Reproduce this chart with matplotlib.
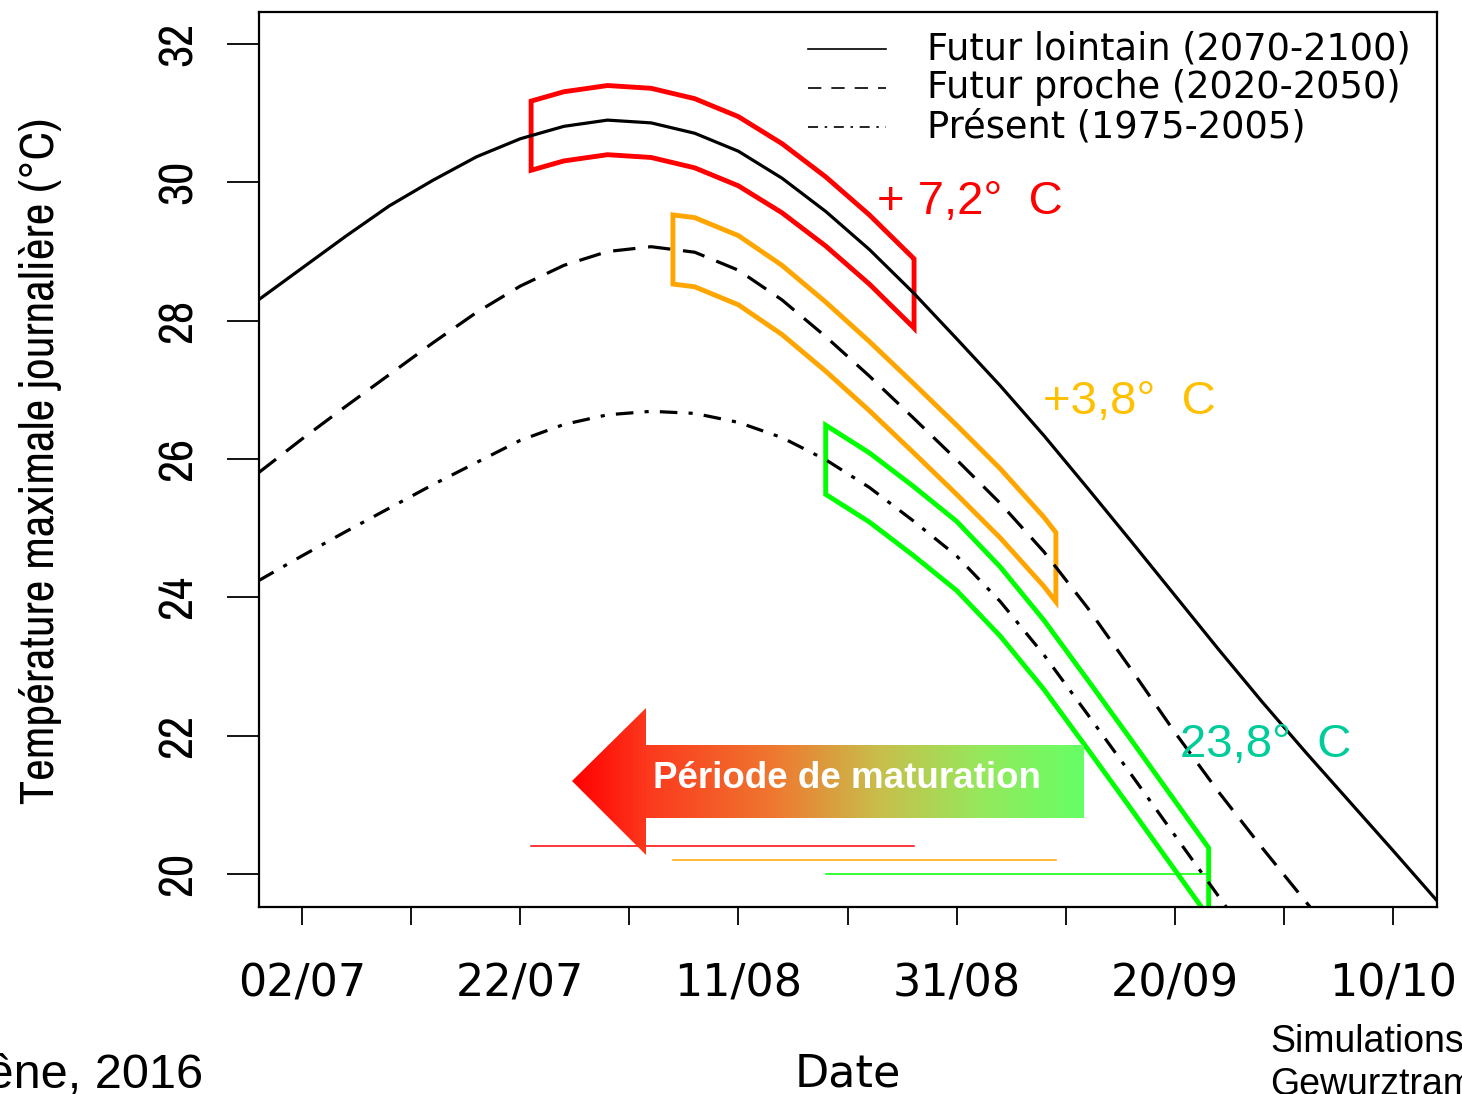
import numpy as np
import matplotlib
matplotlib.use("Agg")
import matplotlib.pyplot as plt
from matplotlib import font_manager
from matplotlib.font_manager import FontProperties
from matplotlib.colors import LinearSegmentedColormap
from matplotlib.patches import Polygon
from matplotlib.lines import Line2D

# x values are days counted from 02/07
lointain_days = [-4, 0, 4, 8, 12, 16, 20, 24, 28, 32, 36, 40, 44, 48, 52, 56, 60, 64, 68, 72,
                 76, 80, 84, 88, 92, 96, 100, 104]
lointain = [28.30, 28.76, 29.22, 29.66, 30.03, 30.37, 30.63, 30.81, 30.90, 30.86, 30.71, 30.45,
            30.06, 29.58, 29.03, 28.41, 27.74, 27.06, 26.34, 25.58, 24.81, 24.03, 23.25, 22.49,
            21.76, 21.05, 20.34, 19.62]

proche_days = [-4, 0, 4, 8, 12, 16, 20, 24, 28, 32, 36, 40, 44, 48, 52, 56, 60, 64, 68, 72,
               76, 80, 84, 88, 92, 94]
proche = [25.80, 26.29, 26.76, 27.22, 27.68, 28.12, 28.50, 28.80, 29.00, 29.07, 28.99, 28.73,
          28.30, 27.77, 27.20, 26.60, 25.99, 25.36, 24.66, 23.85, 22.96, 22.05, 21.19, 20.38,
          19.60, 19.22]

present_days = [-4, 0, 4, 8, 12, 16, 20, 24, 28, 32, 36, 40, 44, 48, 52, 56, 60, 64, 68, 72,
                76, 80, 84, 86]
present = [24.24, 24.60, 24.95, 25.29, 25.63, 25.95, 26.27, 26.50, 26.64, 26.69, 26.66, 26.53,
           26.31, 25.99, 25.59, 25.11, 24.60, 23.94, 23.17, 22.31, 21.44, 20.56, 19.68, 19.24]

# maturation windows (days from 02/07) and level of the coloured bars
mat_start = [21.0, 34.0, 48.0]
mat_end = [56.1, 69.1, 83.1]
mat_level = [20.4, 20.2, 20.0]
mat_colors = ["#FF0000", "#FFA500", "#00FF00"]
half_width = 0.5

tick_days = list(range(0, 101, 10))
tick_labels = ["02/07", "", "22/07", "", "11/08", "", "31/08", "", "20/09", "", "10/10"]
y_ticks = list(range(20, 33, 2))

W, H = 1462, 1094
fig = plt.figure(figsize=(W / 100, H / 100), dpi=100)
ax = fig.add_axes([259 / W, 1 - 907 / H, (1437 - 259) / W, (907 - 12) / H])

# a narrow font for the rotated texts if one is installed
narrow_fp = None
for f in font_manager.fontManager.ttflist:
    if ("Narrow" in f.name or "Narrow" in f.fname) and f.style == "normal" and f.weight in (400, "normal", "regular"):
        narrow_fp = f.fname
        break
def rot_font(size):
    if narrow_fp:
        return FontProperties(fname=narrow_fp, size=size)
    return FontProperties(family="Liberation Sans", size=size)

wide = "DejaVu Sans"

lw_curve = 2.3
ax.plot(lointain_days, lointain, color="black", lw=lw_curve)
ax.plot(proche_days, proche, color="black", lw=lw_curve, dashes=(7, 4))
ax.plot(present_days, present, color="black", lw=lw_curve, dashes=(5.5, 3.5, 1.3, 3.5))

curves = [(lointain_days, lointain), (proche_days, proche), (present_days, present)]
for (dx, dy), s, e, lev, c in zip(curves, mat_start, mat_end, mat_level, mat_colors):
    inner = [d for d in dx if s < d < e]
    xs = np.array([s] + inner + [e])
    ys = np.interp(xs, dx, dy)
    px = np.concatenate([xs, xs[::-1]])
    py = np.concatenate([ys + half_width, (ys - half_width)[::-1]])
    ax.add_patch(Polygon(np.column_stack([px, py]), closed=True, fill=False,
                         edgecolor=c, lw=3.5))
    ax.plot([s, e], [lev, lev], color=c, lw=1.1)

ax.set_xlim(-3.94, 104.03)
ax.set_ylim(19.524, 32.463)
ax.set_xticks(tick_days)
ax.set_xticklabels(tick_labels, fontsize=32, family=wide)
ax.set_yticks(y_ticks)
ax.set_yticklabels([str(v) for v in y_ticks], rotation=90, va="center")
ax.tick_params(axis="x", length=13, width=1.3, pad=27)
ax.tick_params(axis="y", length=23, width=1.3, pad=20)
for sp in ax.spines.values():
    sp.set_linewidth(1.6)

ylab = fig.text(62 / W, 1 - 461 / H, "Température maximale journalière (°C)", rotation=90,
                ha="right", va="center")

# size rotated texts so their length matches the reference
fig.canvas.draw()
r = fig.canvas.get_renderer()
ylab.set_fontproperties(rot_font(30))
h = ylab.get_window_extent(r).height
ylab.set_fontproperties(rot_font(30 * 687 / h))
for t in ax.get_yticklabels():
    t.set_fontproperties(rot_font(30))
h = ax.get_yticklabels()[0].get_window_extent(r).height
for t in ax.get_yticklabels():
    t.set_fontproperties(rot_font(30 * 44 / h))

fig.text(848 / W, 1 - 1074 / H, "Date", fontsize=32, family=wide, ha="center", va="center")

# legend drawn by hand
leg = [("Futur lointain (2070-2100)", "-"), ("Futur proche (2020-2050)", (0, (8, 6))),
       ("Présent (1975-2005)", (0, (6, 4, 1.5, 4)))]
for i, (lab, ls) in enumerate(leg):
    yy = 1 - (49 + 39 * i) / H
    fig.add_artist(Line2D([808 / W, 886 / W], [yy, yy], color="black", lw=1.2, linestyle=ls))
    fig.text(927 / W, yy, lab, fontsize=26.5, family=wide, va="center", ha="left")

# temperature annotations
ax.text(52.7, 29.72, "+ 7,2°  C", color="#FF0000", fontsize=34, family="Liberation Sans", va="center")
ax.text(67.9, 26.82, "+3,8°  C", color="#FFC000", fontsize=34, family="Liberation Sans", va="center")
ax.text(80.5, 21.87, "23,8°  C", color="#00CC99", fontsize=34, family="Liberation Sans", va="center")

# gradient arrow "Période de maturation"
arrow_px = [(572, 781), (646, 708), (646, 745), (1084, 745), (1084, 818), (646, 818), (646, 855)]
arrow_pts = [(x / W, 1 - y / H) for x, y in arrow_px]
grad = LinearSegmentedColormap.from_list(
    "mat", [(0, "#FF0000"), (0.15, "#FC3A1E"), (0.4, "#EE7A30"), (0.6, "#C8BE4C"),
            (0.8, "#96E85C"), (1, "#66FF66")])
gax = fig.add_axes([0, 0, 1, 1], zorder=3)
gax.set_xlim(0, 1)
gax.set_ylim(0, 1)
gax.axis("off")
im = gax.imshow(np.linspace(0, 1, 256)[None, :], cmap=grad, aspect="auto",
                extent=[572 / W, 1084 / W, 1 - 855 / H, 1 - 708 / H])
clip = Polygon(arrow_pts, closed=True, transform=gax.transAxes, facecolor="none", edgecolor="none")
gax.add_patch(clip)
im.set_clip_path(clip)
gax.text(847 / W, 1 - 779 / H, "Période de maturation", color="white", fontsize=26.5,
         fontweight="bold", family="Liberation Sans", ha="center", va="center")

# cut-off texts from the source slide
fig.text(203 / W, 1 - 1076 / H, "Duchêne, 2016", fontsize=35, family="Liberation Sans",
         ha="right", va="center")
fig.text(1270 / W, 1 - 1042 / H, "Simulations", fontsize=27, family="Liberation Sans",
         ha="left", va="center")
fig.text(1270 / W, 1 - 1085 / H, "Gewurztraminer", fontsize=27, family="Liberation Sans",
         ha="left", va="center")

fig.savefig("out.png", dpi=100)
